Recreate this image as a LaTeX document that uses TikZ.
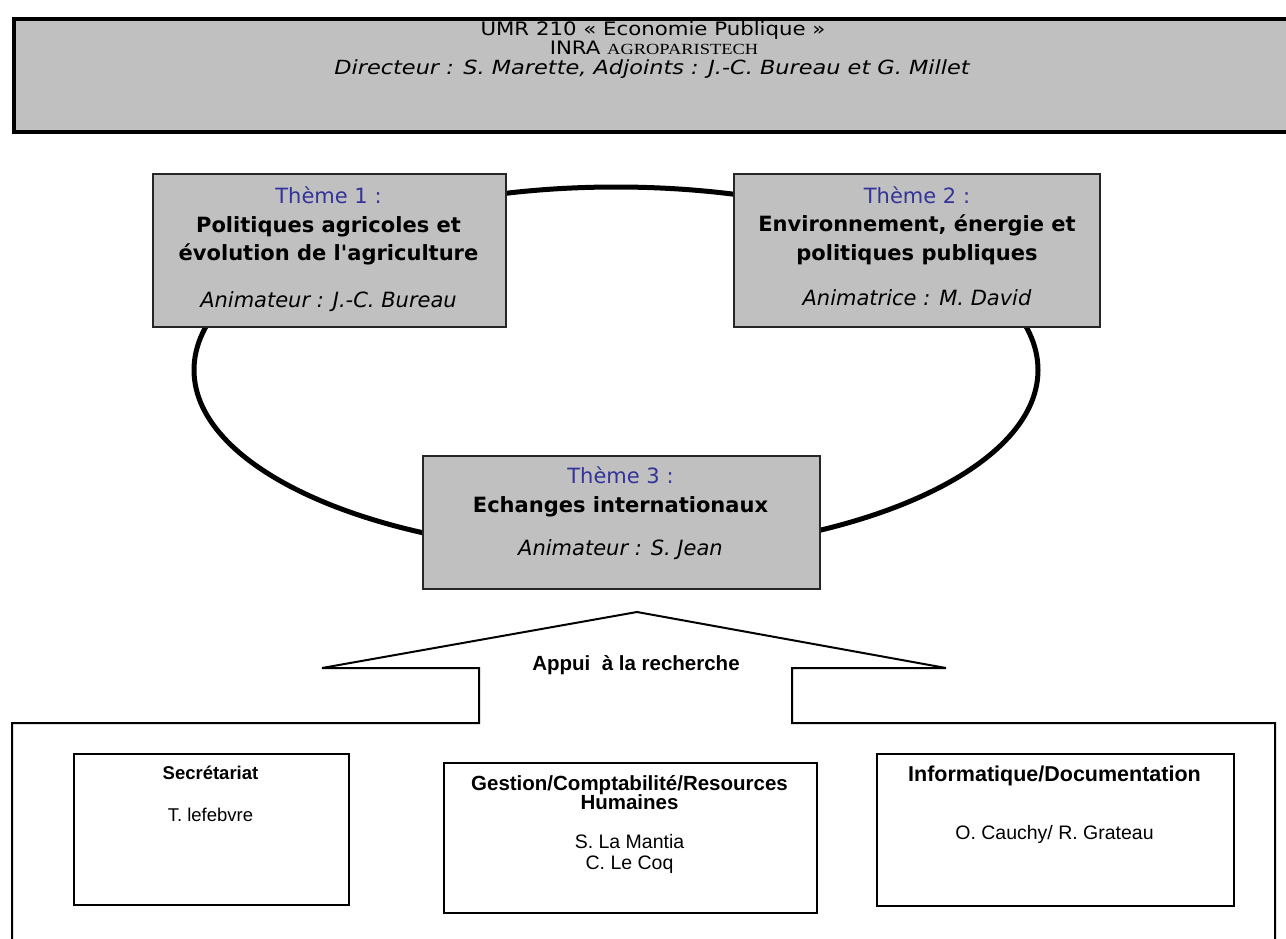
\documentclass[tikz,border=0pt]{standalone}
\usepackage{fontspec}
\setmainfont{DejaVu Sans}
\newfontfamily\arialf{Liberation Sans}
\newfontfamily\hdrfont{DejaVu Sans}[FakeStretch=1.15]
\newfontfamily\hdrserif{Liberation Serif}[FakeStretch=1.19]
\newcommand\sq{{\addfontfeature{Ligatures=TeXOff}'}}
\definecolor{boxgray}{RGB}{192,192,192}
\definecolor{themeblue}{RGB}{51,51,153}
\begin{document}
\begin{tikzpicture}[x=1pt,y=-1pt,
  themebox/.style={draw=black!85,line width=1.5pt,fill=boxgray,inner sep=0pt,anchor=north west},
  staffbox/.style={draw=black,line width=1.8pt,fill=white,inner sep=0pt,anchor=north west},
  ttl/.style={anchor=base,text=themeblue,font=\fontsize{21}{25}\selectfont},
  tbold/.style={anchor=base,font=\fontsize{21}{25}\selectfont\bfseries},
  tital/.style={anchor=base,font=\fontsize{21}{25}\selectfont\itshape},
  hdrtxt/.style={anchor=base,font=\hdrfont\fontsize{18.5}{22}\selectfont},
  sbold/.style={anchor=base,font=\arialf\fontsize{18.5}{21}\selectfont\bfseries},
  sreg/.style={anchor=base,font=\arialf\fontsize{18.5}{21}\selectfont},
  mbold/.style={anchor=base,font=\arialf\fontsize{20.5}{23}\selectfont\bfseries},
  mreg/.style={anchor=base,font=\arialf\fontsize{19.5}{23}\selectfont}]
\useasboundingbox (0,0) rectangle (1286,938);

% header
\node[draw=black,line width=4pt,fill=boxgray,inner sep=0pt,anchor=north west,
      minimum width=1300pt,minimum height=113pt] (hdr) at (12,17) {};
\node[hdrtxt] (h1) at (653,35) {UMR 210 « Economie Publique »};
\node[hdrtxt] (h2) at (654,54) {INRA {\hdrserif\fontsize{15.5}{18}\selectfont AGROPARISTECH}};
\node[hdrtxt,font=\hdrfont\fontsize{19.5}{23}\selectfont\itshape] (h3) at (652,74) {Directeur : S. Marette, Adjoints : J.-C. Bureau et G. Millet};

% ring
\draw[line width=5pt] (616,370) ellipse [x radius=422, y radius=183];

% theme 1
\node[themebox,minimum width=353pt,minimum height=153pt] (th1) at (152,173) {};
\node[ttl] (th1a) at (328.5,203) {Thème 1 :};
\node[tbold] (th1b) at (328.5,232) {Politiques agricoles et};
\node[tbold] (th1c) at (328.5,260) {évolution de l\sq agriculture};
\node[tital] (th1d) at (328.5,307) {Animateur : J.-C. Bureau};

% theme 2
\node[themebox,minimum width=366pt,minimum height=153pt] (th2) at (733,173) {};
\node[ttl] (th2a) at (917,203) {Thème 2 :};
\node[tbold] (th2b) at (917,231) {Environnement, énergie et};
\node[tbold] (th2c) at (917,260) {politiques publiques};
\node[tital] (th2d) at (917,305) {Animatrice : M. David};

% theme 3
\node[themebox,minimum width=397pt,minimum height=133pt] (th3) at (422,455) {};
\node[ttl] (th3a) at (620.5,483) {Thème 3 :};
\node[tbold] (th3b) at (620.5,512) {Echanges internationaux};
\node[tital] (th3c) at (620.5,555) {Animateur : S. Jean};

% support outline
\draw[line width=2pt,line join=miter] (12,945) -- (12,723) -- (479,723) -- (479,668) -- (322,668)
  -- (637,612) -- (946,668) -- (792,668) -- (792,723) -- (1275,723) -- (1275,945);
\node[anchor=base,font=\arialf\fontsize{20.5}{23}\selectfont\bfseries] (appui) at (636,670) {Appui\ \ à la recherche};

% staff boxes
\node[staffbox,minimum width=275pt,minimum height=151pt] (sec) at (73,753) {};
\node[sbold] (seca) at (210.5,779) {Secrétariat};
\node[sreg] (secb) at (210.5,821) {T. lefebvre};

\node[staffbox,minimum width=373pt,minimum height=150pt] (ges) at (443,762) {};
\node[mbold] (gesa) at (629.5,790) {Gestion/Comptabilité/Resources};
\node[mbold] (gesb) at (629.5,809) {Humaines};
\node[mreg] (gesc) at (629.5,848) {S. La Mantia};
\node[mreg] (gesd) at (629.5,869) {C. Le Coq};

\node[staffbox,minimum width=357pt,minimum height=152pt] (inf) at (876,753) {};
\node[mbold,font=\arialf\fontsize{21.5}{24}\selectfont\bfseries] (infa) at (1054.5,781) {Informatique/Documentation};
\node[mreg] (infb) at (1054.5,839) {O. Cauchy/ R. Grateau};
\end{tikzpicture}
\end{document}
